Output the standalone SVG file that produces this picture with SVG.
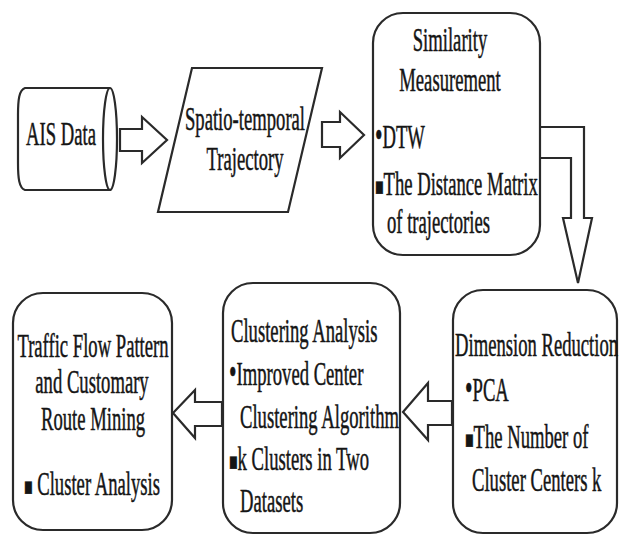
<svg xmlns="http://www.w3.org/2000/svg" width="619" height="536" viewBox="0 0 619 536">
<style>
.shape{fill:#fff;stroke:#2a2a2a;stroke-width:2.2;stroke-linejoin:miter}
.t{font-family:'Liberation Serif','Times New Roman','DejaVu Serif',serif;font-size:33px;fill:#151515;stroke:#151515;stroke-width:0.5}
.m{text-anchor:middle}
.sq{font-size:25px}
.bu{font-size:38px}
</style>
<rect width="619" height="536" fill="#fff"/>
<g id="connectors">
<path class="shape" d="M120,129 L142,129 L142,117 L167,140 L142,163 L142,151 L120,151 Z"/>
<path class="shape" d="M322,122 L340,122 L340,112 L364,135 L340,158 L340,147 L322,147 Z"/>
<path class="shape" d="M540,127 L584,127 L584,218 L592,218 L578,283 L563,218 L571,218 L571,158 L540,158"/>
<path class="shape" d="M452,401 L428,401 L428,383 L403,412 L428,440 L428,425 L452,425 Z"/>
<path class="shape" d="M222,402 L195,402 L195,390 L173,413 L195,438 L195,426 L222,426 Z"/>
</g>
<g id="ais">
<path class="shape" d="M110,88 L25,88 C19,90 18,100 18,115 L18,163 C18,178 19,188 25,190 L110,190"/>
<ellipse class="shape" cx="110" cy="139" rx="7" ry="51"/>
<text class="t m" transform="translate(61,145) scale(0.565,1)">AIS Data</text>
</g>
<g id="trajectory">
<polygon class="shape" points="192,68 322,68 288,212 158,212"/>
<text class="t m" transform="translate(245,130) scale(0.565,1)">Spatio-temporal</text>
<text class="t m" transform="translate(245,170) scale(0.565,1)">Trajectory</text>
</g>
<g id="similarity">
<rect class="shape" x="373" y="13" width="167" height="242" rx="30" ry="30"/>
<text class="t m" transform="translate(450,51) scale(0.565,1)">Similarity</text>
<text class="t m" transform="translate(450,91) scale(0.565,1)">Measurement</text>
<text class="t" transform="translate(375,148) scale(0.565,1)"><tspan class="bu">•</tspan>DTW</text>
<text class="t" transform="translate(375,195) scale(0.565,1)"><tspan class="sq">■</tspan>The Distance Matrix</text>
<text class="t" transform="translate(387,233) scale(0.565,1)">of trajectories</text>
</g>
<g id="dimension">
<rect class="shape" x="453" y="290" width="164" height="243" rx="30" ry="30"/>
<text class="t" transform="translate(455,356) scale(0.565,1)">Dimension Reduction</text>
<text class="t" transform="translate(465,401) scale(0.565,1)"><tspan class="bu">•</tspan>PCA</text>
<text class="t" transform="translate(465,448) scale(0.565,1)"><tspan class="sq">■</tspan>The Number of</text>
<text class="t" transform="translate(472,491) scale(0.565,1)">Cluster Centers k</text>
</g>
<g id="clustering">
<rect class="shape" x="223" y="283" width="177" height="250" rx="30" ry="30"/>
<text class="t" transform="translate(231,342) scale(0.565,1)">Clustering Analysis</text>
<text class="t" transform="translate(229,385) scale(0.565,1)"><tspan class="bu">•</tspan>Improved Center</text>
<text class="t" transform="translate(240,428) scale(0.565,1)">Clustering Algorithm</text>
<text class="t" transform="translate(229,470) scale(0.565,1)"><tspan class="sq">■</tspan>k Clusters in Two</text>
<text class="t" transform="translate(240,512) scale(0.565,1)">Datasets</text>
</g>
<g id="traffic">
<rect class="shape" x="13" y="293" width="159" height="237" rx="30" ry="30"/>
<text class="t m" transform="translate(93,357) scale(0.565,1)">Traffic Flow Pattern</text>
<text class="t m" transform="translate(92,393) scale(0.565,1)">and Customary</text>
<text class="t m" transform="translate(93,430) scale(0.565,1)">Route Mining</text>
<text class="t m" transform="translate(92,495) scale(0.565,1)"><tspan class="sq">■</tspan> Cluster Analysis</text>
</g>
</svg>
